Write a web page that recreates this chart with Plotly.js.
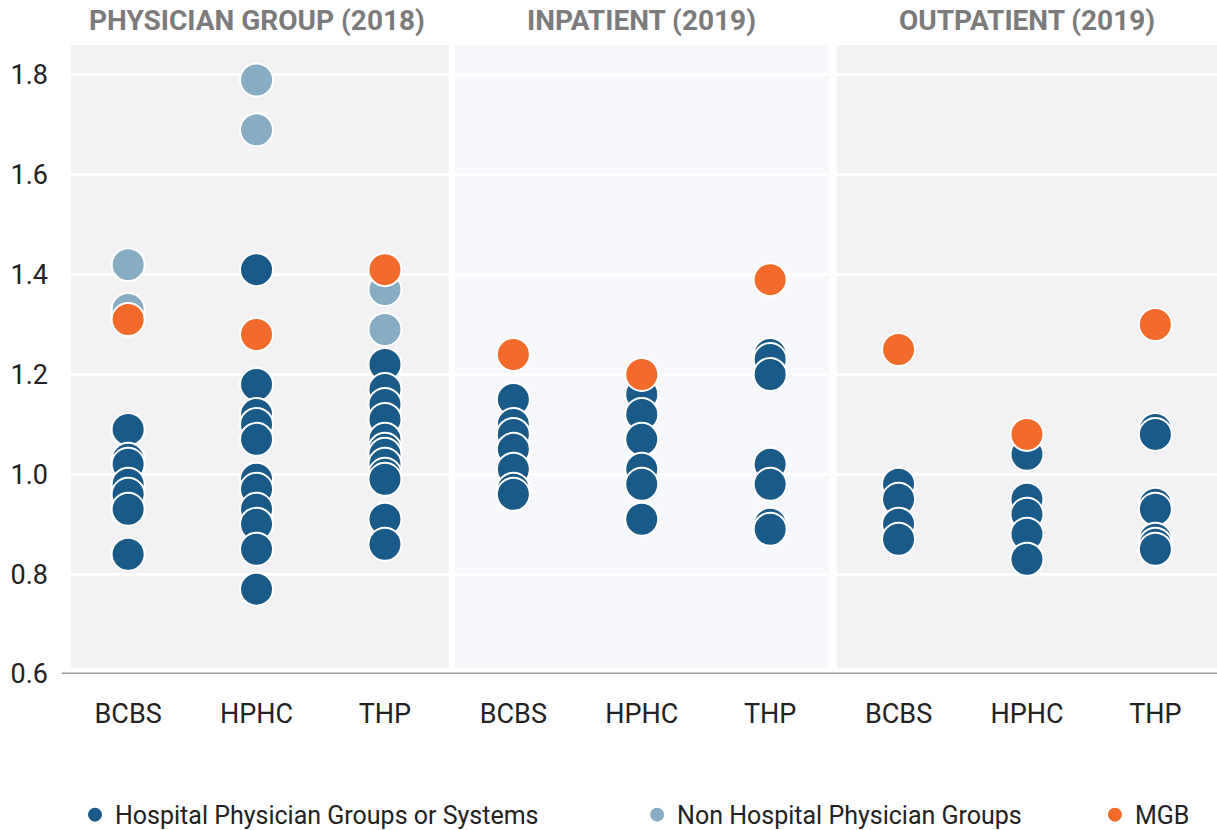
<!DOCTYPE html>
<html>
<head>
<meta charset="utf-8">
<script src="https://cdn.plot.ly/plotly-3.0.1.min.js"></script>
<style>html,body{margin:0;padding:0;background:#fff;}#chart{width:1217px;height:830px;}</style>
</head>
<body>
<div id="chart"></div>
<script>
// ---- data ----
const payers = ["BCBS", "HPHC", "THP"];
const settings = ["PHYSICIAN GROUP (2018)", "INPATIENT (2019)", "OUTPATIENT (2019)"];
const seriesNames = ["Hospital Physician Groups or Systems", "Non Hospital Physician Groups", "MGB"];

// Hospital Physician Groups or Systems, one array per column (setting x payer)
const hospPhysBCBS = [1.09, 1.03, 1.02, 0.98, 0.96, 0.93, 0.84];
const hospPhysHPHC = [1.41, 1.18, 1.12, 1.10, 1.07, 0.99, 0.97, 0.93, 0.90, 0.85, 0.77];
const hospPhysTHP  = [1.22, 1.17, 1.14, 1.11, 1.07, 1.05, 1.04, 1.02, 1.00, 0.99, 0.91, 0.86];
const hospInpBCBS  = [1.15, 1.10, 1.08, 1.05, 1.01, 0.97, 0.96];
const hospInpHPHC  = [1.16, 1.12, 1.07, 1.01, 0.98, 0.91];
const hospInpTHP   = [1.24, 1.23, 1.20, 1.02, 0.98, 0.90, 0.89];
const hospOutBCBS  = [0.98, 0.95, 0.90, 0.87];
const hospOutHPHC  = [1.04, 0.95, 0.92, 0.88, 0.83];
const hospOutTHP   = [1.09, 1.08, 0.94, 0.93, 0.87, 0.86, 0.85];

// Non Hospital Physician Groups
const nonHospPhysBCBS = [1.42, 1.33];
const nonHospPhysHPHC = [1.79, 1.69];
const nonHospPhysTHP  = [1.37, 1.29];

// MGB, one value per column
const mgbValues = [1.31, 1.28, 1.41, 1.24, 1.20, 1.39, 1.25, 1.08, 1.30];

const yTicks = [0.6, 0.8, 1.0, 1.2, 1.4, 1.6, 1.8];

// ---- build traces ----
const hospCols = [hospPhysBCBS, hospPhysHPHC, hospPhysTHP, hospInpBCBS, hospInpHPHC, hospInpTHP, hospOutBCBS, hospOutHPHC, hospOutTHP];
const nonHospCols = [nonHospPhysBCBS, nonHospPhysHPHC, nonHospPhysTHP, [], [], [], [], [], []];

function flatten(cols) {
  const xs = [], ys = [];
  cols.forEach((arr, i) => arr.forEach(v => { xs.push(i); ys.push(v); }));
  return {xs, ys};
}
const h = flatten(hospCols);
const n = flatten(nonHospCols);
const colIdx = mgbValues.map((_, i) => i);

const colors = ["#1a5a88", "#86adc3", "#f26b2a"];
function mk(c) { return {size: 33, color: c, line: {color: "#ffffff", width: 2}}; }

const traces = [
  {type: "scatter", mode: "markers", name: seriesNames[0], x: h.xs, y: h.ys, marker: mk(colors[0]), legend: "legend", hoverinfo: "y"},
  {type: "scatter", mode: "markers", name: seriesNames[1], x: n.xs, y: n.ys, marker: mk(colors[1]), legend: "legend2", hoverinfo: "y"},
  {type: "scatter", mode: "markers", name: seriesNames[2], x: colIdx, y: mgbValues, marker: mk(colors[2]), legend: "legend3", hoverinfo: "y"}
];

// ---- layout ----
const XMIN = -0.445, XMAX = 8.48;
const panelBounds = [[XMIN, 2.496], [2.544, 5.458], [5.519, XMAX]];
const panelColors = ["#f2f2f4", "#f7f8fb", "#f2f2f4"];

const shapes = panelBounds.map((b, i) => ({
  type: "rect", xref: "x", yref: "paper", x0: b[0], x1: b[1], y0: 0.0095, y1: 1,
  fillcolor: panelColors[i], line: {width: 0}, layer: "below"
}));
shapes.push({type: "line", xref: "paper", yref: "y", x0: -0.008, x1: 1, y0: 0.6, y1: 0.6,
  line: {color: "#9c9c9c", width: 3}, layer: "above"});

const annotations = settings.map((s, i) => ({
  text: "<b>" + s + "</b>", xref: "x", yref: "paper", x: i * 3 + 1, y: 1,
  xanchor: "center", yanchor: "bottom", yshift: 6, showarrow: false,
  font: {family: "Roboto", size: 28, color: "#7b7b7b"}
}));

const tickvals = [], ticktext = [];
for (let s = 0; s < settings.length; s++) payers.forEach((p, j) => { tickvals.push(s * 3 + j); ticktext.push(p); });

const legendBase = {orientation: "h", yref: "paper", y: -0.224, yanchor: "middle", xanchor: "left",
  font: {family: "Roboto", size: 25, color: "#222"}, bgcolor: "rgba(0,0,0,0)", borderwidth: 0};

const layout = {
  width: 1217, height: 830,
  margin: {l: 71, r: 0, t: 45, b: 156, autoexpand: false},
  paper_bgcolor: "#ffffff", plot_bgcolor: "rgba(0,0,0,0)",
  font: {family: "Roboto", color: "#222"},
  showlegend: true,
  xaxis: {range: [XMIN, XMAX], tickmode: "array", tickvals: tickvals, ticktext: ticktext,
    showgrid: false, zeroline: false, showline: false, ticks: "", ticklabelstandoff: 21,
    tickfont: {family: "Roboto", size: 27, color: "#222"}, fixedrange: true, automargin: false},
  yaxis: {range: [0.6, 1.86], tickmode: "array", tickvals: yTicks, ticktext: yTicks.map(v => v.toFixed(1)),
    showgrid: true, gridcolor: "#ffffff", gridwidth: 3, zeroline: false, showline: false, ticks: "",
    ticklabelstandoff: 22, tickfont: {family: "Roboto", size: 27, color: "#222"}, fixedrange: true, automargin: false},
  shapes: shapes,
  annotations: annotations,
  legend: Object.assign({}, legendBase, {x: 0.0035}),
  legend2: Object.assign({}, legendBase, {x: 0.494}),
  legend3: Object.assign({}, legendBase, {x: 0.8935})
};

Plotly.newPlot("chart", traces, layout, {displayModeBar: false, staticPlot: true});
</script>
</body>
</html>
